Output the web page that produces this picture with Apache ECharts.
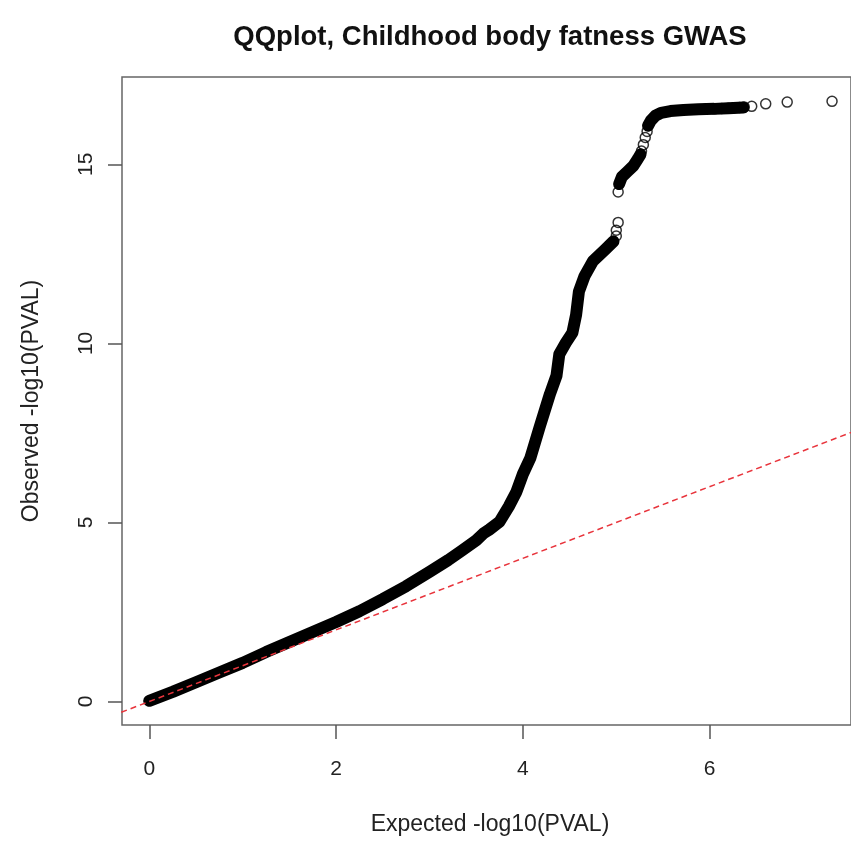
<!DOCTYPE html>
<html><head><meta charset="utf-8">
<script src="https://cdn.jsdelivr.net/npm/echarts@6/dist/echarts.min.js"></script>
<style>html,body{margin:0;padding:0;background:#fff}#c{width:851px;height:841px}</style>
</head><body><div id="c"></div>
<script>
const titleText = 'QQplot, Childhood body fatness GWAS';
const xName = 'Expected -log10(PVAL)';
const yName = 'Observed -log10(PVAL)';
const xTicks = [0, 2, 4, 6];
const yTicks = [0, 5, 10, 15];

// dense part of the QQ curve (expected, observed)
const bandA = [
  [0.00,0.02],[0.25,0.27],[0.50,0.54],[0.75,0.81],[1.00,1.08],[1.25,1.38],[1.50,1.66],
  [1.75,1.94],[2.00,2.22],[2.25,2.52],[2.50,2.86],[2.75,3.22],[3.00,3.62],[3.20,3.95],
  [3.35,4.22],[3.50,4.50],[3.58,4.70],[3.64,4.80],[3.75,5.02],[3.85,5.45],[3.93,5.85],
  [4.00,6.35],[4.08,6.80],[4.18,7.67],[4.29,8.59],[4.36,9.10],[4.39,9.70],[4.46,10.02],
  [4.53,10.30],[4.57,10.80],[4.60,11.45],[4.66,11.88],[4.75,12.30],[4.88,12.62],[4.97,12.85]
];
const bandB = [[5.03,14.45],[5.06,14.65],[5.12,14.80],[5.18,14.95],[5.23,15.15],[5.26,15.28]];
const bandC = [
  [5.34,16.08],[5.37,16.22],[5.42,16.36],[5.48,16.44],[5.58,16.49],[5.72,16.52],
  [5.88,16.54],[6.05,16.55],[6.20,16.57],[6.36,16.59]
];
// individually visible points
const openPoints = [
  [5.00,13.00],[5.00,13.16],[5.02,13.38],[5.02,14.23],
  [5.27,15.37],[5.29,15.55],[5.31,15.75],[5.33,15.92],
  [5.95,16.54],[6.05,16.55],[6.13,16.56],[6.20,16.57],[6.26,16.58],[6.32,16.59],[6.37,16.60],
  [6.45,16.62],[6.60,16.69],[6.83,16.74],[7.31,16.76]
];
// reference line y = x
const refLine = [[-1,-1],[8,8]];

const FONT = '"Liberation Sans", Arial, Helvetica, sans-serif';
const chart = echarts.init(document.getElementById('c'), null, {renderer: 'canvas'});

function band(data) {
  return {
    type: 'line', data: data, showSymbol: false, symbol: 'none', silent: true, clip: true,
    lineStyle: {color: '#000', width: 12, cap: 'round', join: 'round'}, z: 2
  };
}

chart.setOption({
  animation: false,
  backgroundColor: '#fff',
  title: {
    text: titleText, left: 485, top: 18, textAlign: 'center',
    textStyle: {fontFamily: FONT, fontSize: 27.5, fontWeight: 'bold', color: '#111'}
  },
  grid: {
    left: 122, top: 77, right: 0, bottom: 110, show: true,
    borderColor: '#666', borderWidth: 1.5, backgroundColor: 'transparent'
  },
  xAxis: {
    type: 'value', min: -0.292, max: 7.513,
    name: xName, nameLocation: 'middle', nameGap: 88,
    nameTextStyle: {fontFamily: FONT, fontSize: 23, color: '#222', padding: [0, 0, 0, 7]},
    axisLine: {show: false, onZero: false},
    splitLine: {show: false},
    axisTick: {show: true, inside: false, customValues: xTicks, length: 14, lineStyle: {color: '#555', width: 1.5}},
    axisLabel: {customValues: xTicks, fontFamily: FONT, fontSize: 21, color: '#222', margin: 34}
  },
  yAxis: {
    type: 'value', min: -0.656, max: 17.44,
    name: yName, nameLocation: 'middle', nameGap: 79,
    nameTextStyle: {fontFamily: FONT, fontSize: 23, color: '#222'},
    axisLine: {show: false, onZero: false},
    splitLine: {show: false},
    axisTick: {show: true, inside: false, customValues: yTicks, length: 14, lineStyle: {color: '#555', width: 1.5}},
    axisLabel: {customValues: yTicks, rotate: 90, fontFamily: FONT, fontSize: 21, color: '#222', margin: 25}
  },
  series: [
    band(bandA), band(bandB), band(bandC),
    {
      type: 'scatter', data: openPoints, symbol: 'circle', symbolSize: 10, silent: true, z: 3,
      itemStyle: {color: 'rgba(0,0,0,0)', borderColor: '#000', borderWidth: 1.5}
    },
    {
      type: 'line', data: refLine, showSymbol: false, symbol: 'none', silent: true, clip: true, z: 4,
      lineStyle: {color: '#e8343c', width: 1.5, type: [6, 4]}
    }
  ]
});
</script>
</body></html>
